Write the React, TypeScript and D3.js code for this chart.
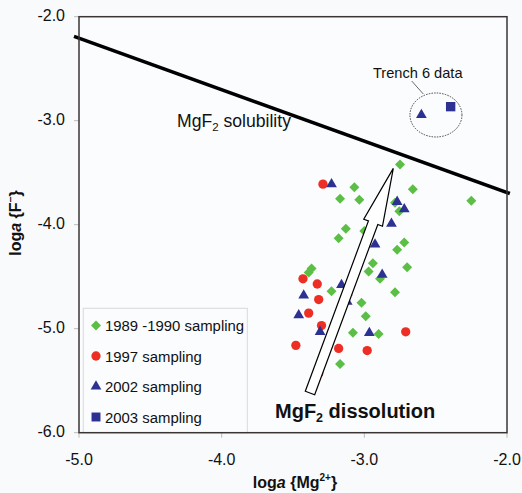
import React from 'react';
import * as d3 from 'd3';

// data: [log a(Mg2+), log a(F-)]
const sampling1989: [number, number][] = [
  [-2.75, -3.42], [-2.66, -3.66], [-2.25, -3.77], [-3.07, -3.64], [-3.17, -3.75],
  [-3.035, -3.76], [-2.785, -3.79], [-2.755, -3.87], [-3.13, -4.04], [-3.18, -4.13],
  [-3.0, -4.06], [-2.72, -4.17], [-2.77, -4.24], [-2.94, -4.37], [-2.70, -4.41],
  [-3.37, -4.42], [-3.39, -4.46], [-2.97, -4.45], [-2.89, -4.52], [-3.23, -4.64],
  [-2.785, -4.65], [-3.02, -4.75], [-2.99, -4.88], [-3.08, -5.04], [-2.90, -5.05],
  [-3.17, -5.34],
];
const sampling1997: [number, number][] = [
  [-3.29, -3.61], [-3.43, -4.52], [-3.33, -4.57], [-3.32, -4.72], [-3.39, -4.85],
  [-3.30, -4.97], [-2.71, -5.03], [-3.48, -5.16], [-3.18, -5.19], [-2.98, -5.21],
  [-3.32, -5.43],
];
const sampling2002: [number, number][] = [
  [-3.23, -3.61], [-2.77, -3.78], [-2.72, -3.85], [-2.81, -3.99], [-2.925, -4.19],
  [-2.875, -4.48], [-3.16, -4.58], [-3.12, -4.65], [-3.12, -4.74], [-3.425, -4.68],
  [-3.46, -4.87], [-3.31, -5.03], [-2.965, -5.04], [-2.60, -2.945],
];
const sampling2003: [number, number][] = [[-2.395, -2.865]];

const solubility: [number, number][] = [[-5.035, -2.19], [-1.98, -3.70]];
const dissolutionArrow: [number, number][] = [[-3.381, -5.618], [-2.797, -3.458]];
const trenchCenter: [number, number] = [-2.498, -2.945];

const xTicks = [-5, -4, -3, -2];
const yTicks = [-2, -3, -4, -5, -6];
const legendLabels = ['1989 -1990 sampling', '1997 sampling', '2002 sampling', '2003 sampling'];

const GREEN = '#5bbf45';
const RED = '#ee2e24';
const BLUE = '#2d3192';
const FONT = '"Liberation Sans", Arial, sans-serif';

export default function App() {
  const width = 522;
  const height = 493;
  const x = d3.scaleLinear().domain([-5, -2]).range([79, 507]);
  const y = d3.scaleLinear().domain([-6, -2]).range([432.7, 16.7]);

  const diamond = d3.symbol(d3.symbolSquare, 50)()!;
  const circle = d3.symbol(d3.symbolCircle, 68)()!;
  const triangle = d3.symbol(d3.symbolTriangle, 50)()!;
  const square = d3.symbol(d3.symbolSquare, 88)()!;

  const line = d3.line<[number, number]>().x(d => x(d[0])).y(d => y(d[1]));

  // block arrow in pixel space
  const [tail, tip] = dissolutionArrow;
  const tx = x(tail[0]), ty = y(tail[1]);
  const px = x(tip[0]), py = y(tip[1]);
  const len = Math.hypot(px - tx, py - ty);
  const ux = (px - tx) / len, uy = (py - ty) / len;
  const nx = -uy, ny = ux;
  const headLen = 58, headW = 10, shaftW = 5;
  const bx = px - ux * headLen, by = py - uy * headLen;
  const arrowPts: [number, number][] = [
    [tx + nx * shaftW, ty + ny * shaftW],
    [bx + nx * shaftW, by + ny * shaftW],
    [bx + nx * headW, by + ny * headW],
    [px, py],
    [bx - nx * headW, by - ny * headW],
    [bx - nx * shaftW, by - ny * shaftW],
    [tx - nx * shaftW, ty - ny * shaftW],
  ];

  const legendSymbols = [
    { d: diamond, color: GREEN, rot: 45 },
    { d: circle, color: RED, rot: 0 },
    { d: triangle, color: BLUE, rot: 0 },
    { d: d3.symbol(d3.symbolSquare, 80)()!, color: BLUE, rot: 0 },
  ];

  return (
    <svg width={width} height={height} style={{ position: 'absolute', left: 0, top: 0 }} fontFamily={FONT}>
      <rect width={width} height={height} fill="#f9fafc" />
      <rect x={x(-5)} y={y(-2)} width={x(-2) - x(-5)} height={y(-6) - y(-2)} fill="#fbfcfe" />

      {/* axis ticks */}
      {xTicks.map(t => (
        <g key={'x' + t}>
          <line x1={x(t)} x2={x(t)} y1={y(-6)} y2={y(-6) + 5} stroke="#bbb" />
          <text x={x(t)} y={465} fontSize={16} textAnchor="middle" fill="#111">{t.toFixed(1)}</text>
        </g>
      ))}
      {yTicks.map(t => (
        <g key={'y' + t}>
          <line x1={x(-5) - 5} x2={x(-5)} y1={y(t)} y2={y(t)} stroke="#bbb" />
          <text x={65} y={y(t)} fontSize={16} textAnchor="end" dominantBaseline="middle" fill="#111">{t.toFixed(1)}</text>
        </g>
      ))}

      {/* legend */}
      <rect x={83.3} y={308.3} width={164} height={124.4} fill="#fbfcfe" stroke="#d6d9de" />
      {legendLabels.map((l, i) => {
        const cy = 325.5 + i * 30.5;
        const s = legendSymbols[i];
        return (
          <g key={l}>
            <path d={s.d} transform={`translate(96,${cy}) rotate(${s.rot})`} fill={s.color} />
            <text x={105} y={cy + 5.5} fontSize={14.9} fill="#111">{l}</text>
          </g>
        );
      })}

      {/* solubility line */}
      <path d={line(solubility)!} stroke="#000" strokeWidth={3.5} fill="none" />

      {/* trench 6 */}
      <ellipse cx={x(trenchCenter[0])} cy={y(trenchCenter[1])} rx={26} ry={22} fill="none" stroke="#444" strokeWidth={1} strokeDasharray="1.5,1.2" />
      <line x1={411.7} y1={81} x2={423.3} y2={94} stroke="#444" strokeWidth={0.8} />
      <text x={373} y={78} fontSize={14.6} fill="#111">Trench 6 data</text>

      {/* points */}
      {sampling1989.map((d, i) => (
        <path key={'g' + i} d={diamond} transform={`translate(${x(d[0])},${y(d[1])}) rotate(45)`} fill={GREEN} />
      ))}
      {sampling1997.map((d, i) => (
        <path key={'r' + i} d={circle} transform={`translate(${x(d[0])},${y(d[1])})`} fill={RED} />
      ))}
      {sampling2002.map((d, i) => (
        <path key={'b' + i} d={triangle} transform={`translate(${x(d[0])},${y(d[1])})`} fill={BLUE} />
      ))}
      {sampling2003.map((d, i) => (
        <path key={'s' + i} d={square} transform={`translate(${x(d[0])},${y(d[1])})`} fill={BLUE} />
      ))}

      {/* dissolution arrow */}
      <polygon points={arrowPts.map(p => p.join(',')).join(' ')} fill="#fff" stroke="#000" strokeWidth={1.2} />

      {/* annotations */}
      <text x={177} y={127} fontSize={17.6} fill="#111">
        MgF<tspan fontSize={11.5} dy={4}>2</tspan><tspan dy={-4}> solubility</tspan>
      </text>
      <text x={275} y={418} fontSize={20} fontWeight="bold" fill="#111">
        MgF<tspan fontSize={12.5} dy={4}>2</tspan><tspan dy={-4}> dissolution</tspan>
      </text>

      {/* frame */}
      <rect x={x(-5)} y={y(-2)} width={x(-2) - x(-5)} height={y(-6) - y(-2)} fill="none" stroke="#3b3434" strokeWidth={1.5} />

      {/* axis titles */}
      <text x={295} y={488} fontSize={16} fontWeight="bold" textAnchor="middle" fill="#111">
        log<tspan fontStyle="italic">a</tspan> {'{'}Mg<tspan fontSize={10} dy={-7}>2+</tspan><tspan dy={7}>{'}'}</tspan>
      </text>
      <text transform={`translate(21,223) rotate(-90)`} fontSize={16} fontWeight="bold" textAnchor="middle" fill="#111">
        log<tspan fontStyle="italic">a</tspan> {'{'}F<tspan fontSize={10} dy={-7}>−</tspan><tspan dy={7}>{'}'}</tspan>
      </text>
    </svg>
  );
}
